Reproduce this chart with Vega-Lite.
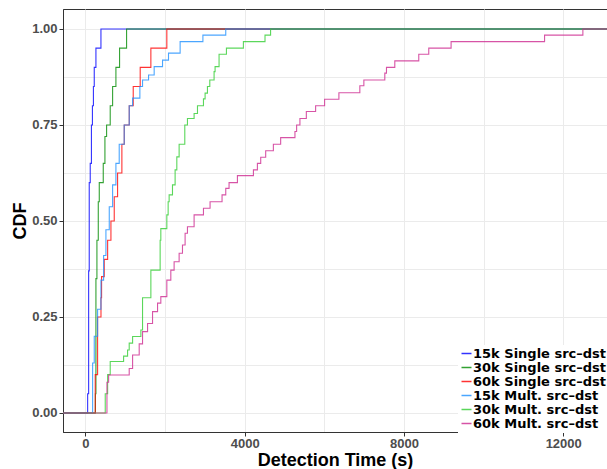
{
  "$schema": "https://vega.github.io/schema/vega-lite/v6.json",
  "width": 544,
  "height": 423,
  "autosize": {"type": "none"},
  "padding": {"left": 63, "top": 9, "right": 0, "bottom": 37},
  "background": "white",
  "config": {
    "view": {"stroke": "#333333", "strokeWidth": 1},
    "font": "Liberation Sans"
  },
  "datasets": {
    "ecdf": [
      {"s": "15k Single src–dst", "t": -1000, "p": 0},
      {"s": "15k Single src–dst", "t": 55, "p": 0.05},
      {"s": "15k Single src–dst", "t": 80, "p": 0.37},
      {"s": "15k Single src–dst", "t": 95, "p": 0.6},
      {"s": "15k Single src–dst", "t": 120, "p": 0.65},
      {"s": "15k Single src–dst", "t": 150, "p": 0.75},
      {"s": "15k Single src–dst", "t": 175, "p": 0.8},
      {"s": "15k Single src–dst", "t": 200, "p": 0.85},
      {"s": "15k Single src–dst", "t": 221, "p": 0.9},
      {"s": "15k Single src–dst", "t": 263, "p": 0.95},
      {"s": "15k Single src–dst", "t": 389, "p": 1},
      {"s": "15k Single src–dst", "t": 14000, "p": 1},

      {"s": "30k Single src–dst", "t": -1000, "p": 0},
      {"s": "30k Single src–dst", "t": 250, "p": 0.05},
      {"s": "30k Single src–dst", "t": 263, "p": 0.35},
      {"s": "30k Single src–dst", "t": 288, "p": 0.45},
      {"s": "30k Single src–dst", "t": 322, "p": 0.55},
      {"s": "30k Single src–dst", "t": 347, "p": 0.6},
      {"s": "30k Single src–dst", "t": 447, "p": 0.65},
      {"s": "30k Single src–dst", "t": 489, "p": 0.72},
      {"s": "30k Single src–dst", "t": 531, "p": 0.75},
      {"s": "30k Single src–dst", "t": 622, "p": 0.8},
      {"s": "30k Single src–dst", "t": 682, "p": 0.85},
      {"s": "30k Single src–dst", "t": 765, "p": 0.9},
      {"s": "30k Single src–dst", "t": 857, "p": 0.95},
      {"s": "30k Single src–dst", "t": 1033, "p": 1},
      {"s": "30k Single src–dst", "t": 14000, "p": 1},

      {"s": "60k Single src–dst", "t": -1000, "p": 0},
      {"s": "60k Single src–dst", "t": 245, "p": 0.1},
      {"s": "60k Single src–dst", "t": 305, "p": 0.25},
      {"s": "60k Single src–dst", "t": 390, "p": 0.3},
      {"s": "60k Single src–dst", "t": 405, "p": 0.355},
      {"s": "60k Single src–dst", "t": 472, "p": 0.4},
      {"s": "60k Single src–dst", "t": 557, "p": 0.45},
      {"s": "60k Single src–dst", "t": 640, "p": 0.5},
      {"s": "60k Single src–dst", "t": 723, "p": 0.563},
      {"s": "60k Single src–dst", "t": 807, "p": 0.625},
      {"s": "60k Single src–dst", "t": 915, "p": 0.7},
      {"s": "60k Single src–dst", "t": 975, "p": 0.75},
      {"s": "60k Single src–dst", "t": 1100, "p": 0.8},
      {"s": "60k Single src–dst", "t": 1200, "p": 0.85},
      {"s": "60k Single src–dst", "t": 1375, "p": 0.9},
      {"s": "60k Single src–dst", "t": 1643, "p": 0.95},
      {"s": "60k Single src–dst", "t": 2044, "p": 1},
      {"s": "60k Single src–dst", "t": 14000, "p": 1},

      {"s": "15k Mult. src–dst", "t": -1000, "p": 0},
      {"s": "15k Mult. src–dst", "t": 180, "p": 0.13},
      {"s": "15k Mult. src–dst", "t": 221, "p": 0.2},
      {"s": "15k Mult. src–dst", "t": 305, "p": 0.27},
      {"s": "15k Mult. src–dst", "t": 389, "p": 0.346},
      {"s": "15k Mult. src–dst", "t": 456, "p": 0.41},
      {"s": "15k Mult. src–dst", "t": 514, "p": 0.477},
      {"s": "15k Mult. src–dst", "t": 598, "p": 0.537},
      {"s": "15k Mult. src–dst", "t": 682, "p": 0.594},
      {"s": "15k Mult. src–dst", "t": 765, "p": 0.65},
      {"s": "15k Mult. src–dst", "t": 848, "p": 0.7},
      {"s": "15k Mult. src–dst", "t": 973, "p": 0.75},
      {"s": "15k Mult. src–dst", "t": 1099, "p": 0.8},
      {"s": "15k Mult. src–dst", "t": 1184, "p": 0.82},
      {"s": "15k Mult. src–dst", "t": 1367, "p": 0.85},
      {"s": "15k Mult. src–dst", "t": 1434, "p": 0.867},
      {"s": "15k Mult. src–dst", "t": 1585, "p": 0.88},
      {"s": "15k Mult. src–dst", "t": 1726, "p": 0.902},
      {"s": "15k Mult. src–dst", "t": 1936, "p": 0.919},
      {"s": "15k Mult. src–dst", "t": 2086, "p": 0.937},
      {"s": "15k Mult. src–dst", "t": 2378, "p": 0.967},
      {"s": "15k Mult. src–dst", "t": 2950, "p": 0.984},
      {"s": "15k Mult. src–dst", "t": 3524, "p": 1},
      {"s": "15k Mult. src–dst", "t": 14000, "p": 1},

      {"s": "30k Mult. src–dst", "t": -1000, "p": 0},
      {"s": "30k Mult. src–dst", "t": 497, "p": 0.05},
      {"s": "30k Mult. src–dst", "t": 557, "p": 0.1},
      {"s": "30k Mult. src–dst", "t": 622, "p": 0.134},
      {"s": "30k Mult. src–dst", "t": 958, "p": 0.148},
      {"s": "30k Mult. src–dst", "t": 1058, "p": 0.164},
      {"s": "30k Mult. src–dst", "t": 1099, "p": 0.182},
      {"s": "30k Mult. src–dst", "t": 1184, "p": 0.199},
      {"s": "30k Mult. src–dst", "t": 1392, "p": 0.216},
      {"s": "30k Mult. src–dst", "t": 1434, "p": 0.3},
      {"s": "30k Mult. src–dst", "t": 1643, "p": 0.372},
      {"s": "30k Mult. src–dst", "t": 1876, "p": 0.45},
      {"s": "30k Mult. src–dst", "t": 1893, "p": 0.48},
      {"s": "30k Mult. src–dst", "t": 2044, "p": 0.516},
      {"s": "30k Mult. src–dst", "t": 2077, "p": 0.55},
      {"s": "30k Mult. src–dst", "t": 2102, "p": 0.568},
      {"s": "30k Mult. src–dst", "t": 2186, "p": 0.594},
      {"s": "30k Mult. src–dst", "t": 2252, "p": 0.633},
      {"s": "30k Mult. src–dst", "t": 2295, "p": 0.667},
      {"s": "30k Mult. src–dst", "t": 2353, "p": 0.7},
      {"s": "30k Mult. src–dst", "t": 2495, "p": 0.75},
      {"s": "30k Mult. src–dst", "t": 2562, "p": 0.767},
      {"s": "30k Mult. src–dst", "t": 2729, "p": 0.78},
      {"s": "30k Mult. src–dst", "t": 2814, "p": 0.8},
      {"s": "30k Mult. src–dst", "t": 2964, "p": 0.818},
      {"s": "30k Mult. src–dst", "t": 3005, "p": 0.833},
      {"s": "30k Mult. src–dst", "t": 3064, "p": 0.85},
      {"s": "30k Mult. src–dst", "t": 3123, "p": 0.867},
      {"s": "30k Mult. src–dst", "t": 3231, "p": 0.889},
      {"s": "30k Mult. src–dst", "t": 3256, "p": 0.902},
      {"s": "30k Mult. src–dst", "t": 3356, "p": 0.934},
      {"s": "30k Mult. src–dst", "t": 3541, "p": 0.95},
      {"s": "30k Mult. src–dst", "t": 3967, "p": 0.967},
      {"s": "30k Mult. src–dst", "t": 4510, "p": 0.984},
      {"s": "30k Mult. src–dst", "t": 4650, "p": 1},
      {"s": "30k Mult. src–dst", "t": 14000, "p": 1},

      {"s": "60k Mult. src–dst", "t": -1000, "p": 0},
      {"s": "60k Mult. src–dst", "t": 540, "p": 0.08},
      {"s": "60k Mult. src–dst", "t": 582, "p": 0.099},
      {"s": "60k Mult. src–dst", "t": 1099, "p": 0.116},
      {"s": "60k Mult. src–dst", "t": 1184, "p": 0.151},
      {"s": "60k Mult. src–dst", "t": 1350, "p": 0.18},
      {"s": "60k Mult. src–dst", "t": 1434, "p": 0.212},
      {"s": "60k Mult. src–dst", "t": 1560, "p": 0.233},
      {"s": "60k Mult. src–dst", "t": 1685, "p": 0.264},
      {"s": "60k Mult. src–dst", "t": 1811, "p": 0.286},
      {"s": "60k Mult. src–dst", "t": 1893, "p": 0.303},
      {"s": "60k Mult. src–dst", "t": 2044, "p": 0.346},
      {"s": "60k Mult. src–dst", "t": 2144, "p": 0.372},
      {"s": "60k Mult. src–dst", "t": 2227, "p": 0.394},
      {"s": "60k Mult. src–dst", "t": 2353, "p": 0.416},
      {"s": "60k Mult. src–dst", "t": 2437, "p": 0.4375},
      {"s": "60k Mult. src–dst", "t": 2503, "p": 0.468},
      {"s": "60k Mult. src–dst", "t": 2562, "p": 0.485},
      {"s": "60k Mult. src–dst", "t": 2729, "p": 0.516},
      {"s": "60k Mult. src–dst", "t": 2964, "p": 0.533},
      {"s": "60k Mult. src–dst", "t": 3130, "p": 0.55},
      {"s": "60k Mult. src–dst", "t": 3431, "p": 0.568},
      {"s": "60k Mult. src–dst", "t": 3524, "p": 0.585},
      {"s": "60k Mult. src–dst", "t": 3607, "p": 0.6},
      {"s": "60k Mult. src–dst", "t": 3817, "p": 0.618},
      {"s": "60k Mult. src–dst", "t": 4219, "p": 0.633},
      {"s": "60k Mult. src–dst", "t": 4319, "p": 0.65},
      {"s": "60k Mult. src–dst", "t": 4402, "p": 0.666},
      {"s": "60k Mult. src–dst", "t": 4527, "p": 0.683},
      {"s": "60k Mult. src–dst", "t": 4720, "p": 0.7},
      {"s": "60k Mult. src–dst", "t": 4903, "p": 0.717},
      {"s": "60k Mult. src–dst", "t": 5262, "p": 0.733},
      {"s": "60k Mult. src–dst", "t": 5304, "p": 0.75},
      {"s": "60k Mult. src–dst", "t": 5387, "p": 0.767},
      {"s": "60k Mult. src–dst", "t": 5548, "p": 0.785},
      {"s": "60k Mult. src–dst", "t": 5781, "p": 0.8},
      {"s": "60k Mult. src–dst", "t": 6007, "p": 0.817},
      {"s": "60k Mult. src–dst", "t": 6366, "p": 0.834},
      {"s": "60k Mult. src–dst", "t": 6892, "p": 0.852},
      {"s": "60k Mult. src–dst", "t": 6993, "p": 0.867},
      {"s": "60k Mult. src–dst", "t": 7519, "p": 0.885},
      {"s": "60k Mult. src–dst", "t": 7561, "p": 0.9},
      {"s": "60k Mult. src–dst", "t": 7770, "p": 0.917},
      {"s": "60k Mult. src–dst", "t": 8372, "p": 0.934},
      {"s": "60k Mult. src–dst", "t": 8623, "p": 0.95},
      {"s": "60k Mult. src–dst", "t": 9184, "p": 0.967},
      {"s": "60k Mult. src–dst", "t": 11532, "p": 0.984},
      {"s": "60k Mult. src–dst", "t": 12494, "p": 1},
      {"s": "60k Mult. src–dst", "t": 14000, "p": 1}
    ]
  },
  "data": {"name": "ecdf"},
  "mark": {"type": "line", "interpolate": "step-after", "clip": true, "strokeWidth": 1.1, "opacity": 0.8},
  "encoding": {
    "x": {
      "field": "t",
      "type": "quantitative",
      "scale": {"domain": [-564, 13100], "nice": false, "zero": false},
      "axis": {
        "values": [0, 2000, 4000, 6000, 8000, 10000, 12000],
        "format": "d",
        "labelExpr": "datum.value % 4000 === 0 ? datum.label : ''",
        "tickOpacity": {"condition": {"test": "datum.value % 4000 === 0", "value": 1}, "value": 0},
        "grid": true,
        "gridColor": "#EBEBEB",
        "gridWidth": 1,
        "domainColor": "#333333",
        "tickColor": "#333333",
        "tickSize": 4,
        "labelFont": "Liberation Sans",
        "labelFontWeight": "bold",
        "labelFontSize": 13,
        "labelColor": "#4D4D4D",
        "labelPadding": 1,
        "title": "Detection Time (s)",
        "titleFont": "Liberation Sans",
        "titleFontSize": 18,
        "titleFontWeight": "bold",
        "titleColor": "#000000",
        "titlePadding": 1
      }
    },
    "y": {
      "field": "p",
      "type": "quantitative",
      "scale": {"domain": [-0.0495, 1.052], "nice": false, "zero": false},
      "axis": {
        "values": [0, 0.125, 0.25, 0.375, 0.5, 0.625, 0.75, 0.875, 1],
        "format": ".2f",
        "labelExpr": "(datum.value * 4) % 1 === 0 ? datum.label : ''",
        "tickOpacity": {"condition": {"test": "(datum.value * 4) % 1 === 0", "value": 1}, "value": 0},
        "grid": true,
        "gridColor": "#EBEBEB",
        "gridWidth": 1,
        "domainColor": "#333333",
        "tickColor": "#333333",
        "tickSize": 4,
        "labelFont": "Liberation Sans",
        "labelFontWeight": "bold",
        "labelFontSize": 13,
        "labelColor": "#4D4D4D",
        "labelPadding": 2,
        "title": "CDF",
        "titleFont": "Liberation Sans",
        "titleFontSize": 18,
        "titleFontWeight": "bold",
        "titleColor": "#000000",
        "titlePadding": 2
      }
    },
    "color": {
      "field": "s",
      "type": "nominal",
      "scale": {
        "domain": ["15k Single src–dst", "30k Single src–dst", "60k Single src–dst", "15k Mult. src–dst", "30k Mult. src–dst", "60k Mult. src–dst"],
        "range": ["#0000FF", "#008B00", "#FF0000", "#1E90FF", "#32CD32", "#CD2990"]
      },
      "legend": {
        "orient": "none",
        "legendX": 395,
        "legendY": 336,
        "title": null,
        "symbolType": "stroke",
        "symbolStrokeWidth": 1.5,
        "symbolSize": 100,
        "labelFont": "DejaVu Sans",
        "labelFontWeight": "bold",
        "labelFontSize": 13,
        "labelColor": "#000000",
        "labelOffset": 0,
        "labelLimit": 300,
        "rowPadding": 0,
        "fillColor": "white",
        "padding": 2
      }
    }
  }
}
